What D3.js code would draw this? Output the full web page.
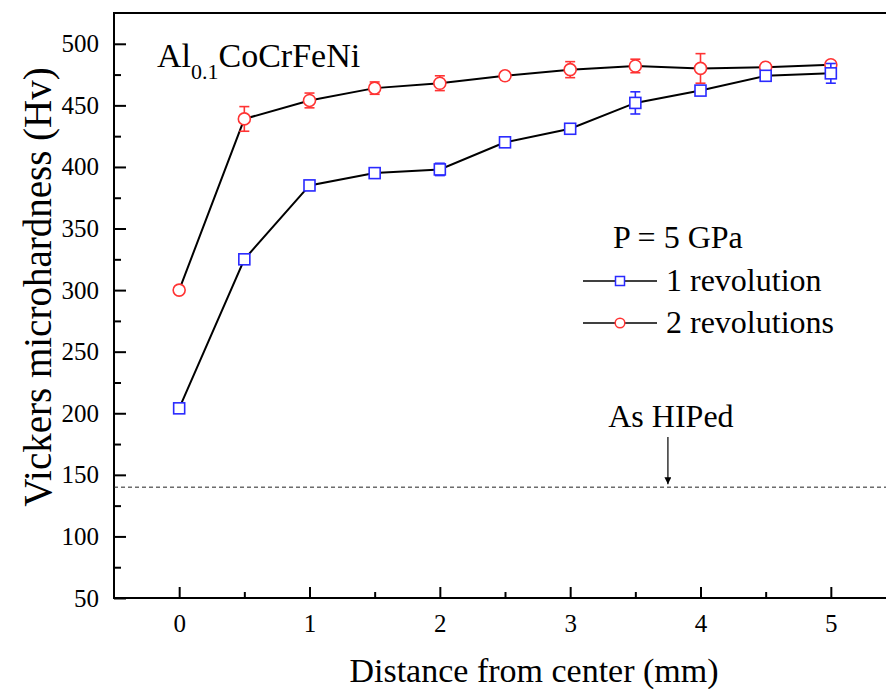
<!DOCTYPE html>
<html lang="en">
<head>
  <meta charset="UTF-8">
  <title>Vickers microhardness vs distance from center</title>
  <style>
    body { margin: 0; background: #fff; }
    svg { display: block; }
    text { font-family: "Liberation Serif", "Times New Roman", serif; fill: #000; }
  </style>
</head>
<body>
  <svg width="886" height="689"></svg>

  <script src="https://d3js.org/d3.v7.min.js"></script>
  <script>
    // distance from center (mm)
    const distance = [0, 0.5, 1, 1.5, 2, 2.5, 3, 3.5, 4, 4.5, 5];
    // 1 revolution
    const rev1 = [204, 325, 385, 395, 398, 420, 431, 452, 462, 474, 476];
    const rev1Err = [0, 3, 4, 2, 5, 2, 2.5, 9, 2.5, 2, 8];
    // 2 revolutions
    const rev2 = [300, 439, 454, 464, 468, 474, 479, 482, 480, 481, 483];
    const rev2Err = [0, 10, 6, 5, 6, 3, 6.5, 5.5, 12, 3, 3];
    const xTicks = [0, 1, 2, 3, 4, 5];
    const yTicks = [50, 100, 150, 200, 250, 300, 350, 400, 450, 500];
    const hiped = 140;

    const width = 886, height = 689;
    const svg = d3.select("svg");

    const x = d3.scaleLinear().domain([-0.5, 5.5]).range([114, 896]);
    const y = d3.scaleLinear().domain([50, 525]).range([598, 13]);

    const blue = "#2a2aff", red = "#ff3333";

    // frame
    svg.append("rect")
      .attr("x", x(-0.5)).attr("y", y(525))
      .attr("width", x(5.5) - x(-0.5)).attr("height", y(50) - y(525))
      .attr("fill", "none").attr("stroke", "#000").attr("stroke-width", 2);

    // y axis: ticks inside
    const yAxis = svg.append("g").attr("transform", `translate(${x(-0.5)},0)`);
    yAxis.call(d3.axisLeft(y).tickValues(d3.range(75, 525, 50)).tickSize(-7).tickFormat(""));
    yAxis.call(g => g.append("g").call(d3.axisLeft(y).tickValues(yTicks).tickSize(-12).tickPadding(15)));
    yAxis.selectAll(".domain").remove();
    yAxis.selectAll("line").attr("stroke", "#000").attr("stroke-width", 2);
    yAxis.selectAll("text").attr("font-size", 25).attr("font-family", "Liberation Serif").attr("fill", "#000");

    // x axis: ticks inside
    const xAxis = svg.append("g").attr("transform", `translate(0,${y(50)})`);
    xAxis.call(d3.axisBottom(x).tickValues(d3.range(0.5, 5, 1)).tickSize(-6).tickFormat(""));
    xAxis.call(g => g.append("g").call(d3.axisBottom(x).tickValues(xTicks).tickSize(-11).tickPadding(16).tickFormat(d3.format("d"))));
    xAxis.selectAll(".domain").remove();
    xAxis.selectAll("line").attr("stroke", "#000").attr("stroke-width", 2);
    xAxis.selectAll("text").attr("font-size", 25).attr("font-family", "Liberation Serif").attr("fill", "#000");

    // axis titles
    svg.append("text")
      .attr("x", 534).attr("y", 682)
      .attr("text-anchor", "middle").attr("font-size", 34)
      .text("Distance from center (mm)");
    svg.append("text")
      .attr("transform", `translate(51,287) rotate(-90)`)
      .attr("text-anchor", "middle").attr("font-size", 39)
      .text("Vickers microhardness (Hv)");

    // As HIPed reference
    svg.append("line")
      .attr("x1", x(-0.5)).attr("x2", width)
      .attr("y1", y(hiped)).attr("y2", y(hiped))
      .attr("stroke", "#222").attr("stroke-width", 1).attr("stroke-dasharray", "4,3");

    svg.append("defs").append("marker")
      .attr("id", "arrow").attr("viewBox", "0 0 10 10")
      .attr("refX", 10).attr("refY", 5)
      .attr("markerWidth", 12).attr("markerHeight", 7)
      .attr("markerUnits", "userSpaceOnUse")
      .attr("orient", "auto")
      .append("path").attr("d", "M0,0 L10,5 L0,10 Z").attr("fill", "#000");

    svg.append("line")
      .attr("x1", x(3.75)).attr("x2", x(3.75))
      .attr("y1", 437).attr("y2", y(hiped) - 3)
      .attr("stroke", "#000").attr("stroke-width", 1.2)
      .attr("marker-end", "url(#arrow)");
    svg.append("text")
      .attr("x", x(3.75) + 3).attr("y", 427)
      .attr("text-anchor", "middle").attr("font-size", 32)
      .text("As HIPed");

    // alloy label
    const alloy = svg.append("text").attr("x", 157).attr("y", 67).attr("font-size", 34);
    alloy.append("tspan").text("Al");
    alloy.append("tspan").attr("font-size", 22).attr("dy", 12).text("0.1");
    alloy.append("tspan").attr("dy", -12).text("CoCrFeNi");

    // series
    const line = d3.line().x(d => x(d.x)).y(d => y(d.v));

    function drawSeries(vals, errs, color, shape) {
      const pts = vals.map((v, i) => ({ x: distance[i], v: v, e: errs[i] }));
      const g = svg.append("g");
      g.append("path").datum(pts)
        .attr("d", line).attr("fill", "none")
        .attr("stroke", "#000").attr("stroke-width", 2);
      const eb = g.selectAll(".eb").data(pts.filter(d => d.e > 0)).enter().append("g")
        .attr("stroke", color).attr("stroke-width", 1.6);
      eb.append("line")
        .attr("x1", d => x(d.x)).attr("x2", d => x(d.x))
        .attr("y1", d => y(d.v - d.e)).attr("y2", d => y(d.v + d.e));
      [-1, 1].forEach(s => {
        eb.append("line")
          .attr("x1", d => x(d.x) - 5).attr("x2", d => x(d.x) + 5)
          .attr("y1", d => y(d.v + s * d.e)).attr("y2", d => y(d.v + s * d.e));
      });
      if (shape === "square") {
        g.selectAll(".m").data(pts).enter().append("rect")
          .attr("x", d => x(d.x) - 5.5).attr("y", d => y(d.v) - 5.5)
          .attr("width", 11).attr("height", 11)
          .attr("fill", "#fff").attr("stroke", color).attr("stroke-width", 1.6);
      } else {
        g.selectAll(".m").data(pts).enter().append("circle")
          .attr("cx", d => x(d.x)).attr("cy", d => y(d.v)).attr("r", 6)
          .attr("fill", "#fff").attr("stroke", color).attr("stroke-width", 1.6);
      }
    }
    drawSeries(rev2, rev2Err, red, "circle");
    drawSeries(rev1, rev1Err, blue, "square");

    // legend
    const lg = svg.append("g").attr("font-size", 32);
    lg.append("text").attr("x", 613).attr("y", 248).text("P = 5 GPa");
    const items = [
      { label: "1 revolution", color: blue, shape: "square", y: 281 },
      { label: "2 revolutions", color: red, shape: "circle", y: 323 }
    ];
    items.forEach(it => {
      lg.append("line").attr("x1", 583).attr("x2", 657).attr("y1", it.y).attr("y2", it.y)
        .attr("stroke", "#000").attr("stroke-width", 1.6);
      if (it.shape === "square") {
        lg.append("rect").attr("x", 615.5).attr("y", it.y - 4.5).attr("width", 9).attr("height", 9)
          .attr("fill", "#fff").attr("stroke", it.color).attr("stroke-width", 1.5);
      } else {
        lg.append("circle").attr("cx", 620).attr("cy", it.y).attr("r", 4.8)
          .attr("fill", "#fff").attr("stroke", it.color).attr("stroke-width", 1.5);
      }
      lg.append("text").attr("x", 666).attr("y", it.y + 10).text(it.label);
    });
  </script>
</body>
</html>
